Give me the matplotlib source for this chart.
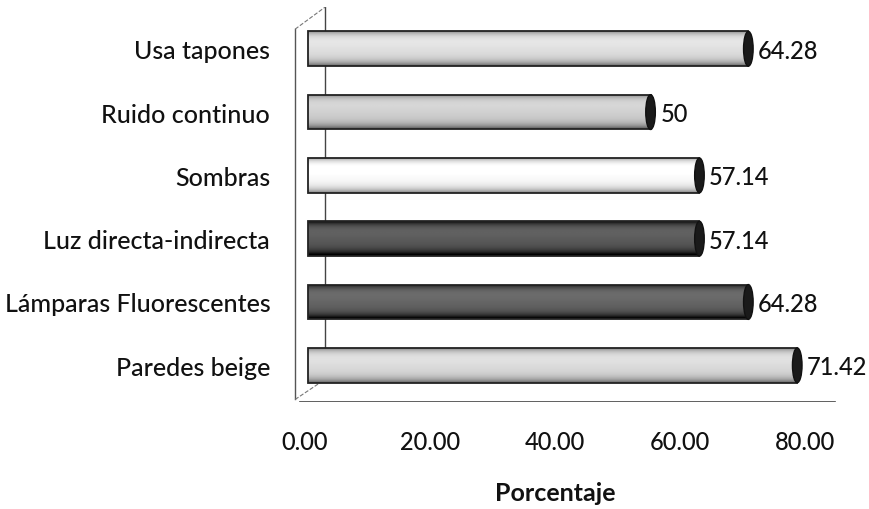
import numpy as np
import matplotlib.pyplot as plt
from matplotlib.patches import Ellipse

plt.rcParams['font.family'] = ['Lato', 'DejaVu Sans']

categorias = ['Paredes beige', 'Lámparas Fluorescentes', 'Luz directa-indirecta',
              'Sombras', 'Ruido continuo', 'Usa tapones']
porcentajes = [71.42, 64.28, 57.14, 57.14, 50, 64.28]
ticks_x = [0, 20, 40, 60, 80]

# tono de gris de cada cilindro (0 negro, 1 blanco)
tonos = [0.86, 0.40, 0.36, 0.99, 0.82, 0.88]

fig = plt.figure(figsize=(8.7, 5.1), dpi=100)
W, H = 870, 510

# ejes principales (barras)
ax = fig.add_axes([291 / W, (H - 403) / H, (856 - 291) / W, 395 / H])
ax.set_xlim(-2.5, 80)
ax.set_ylim(-0.58, 5.66)
alto = 0.55
y = np.arange(len(categorias))

barras = ax.barh(y, porcentajes, height=alto, color='none', edgecolor='#222222',
                 linewidth=1.3, zorder=3)

perfil = np.linspace(-1, 1, 64)
for b, v, t, yy in zip(barras, porcentajes, tonos, y):
    # sombreado cilindrico: bordes oscuros, centro claro
    sombra = t - 0.4 * perfil ** 4 - 0.08 * perfil
    sombra = np.clip(sombra, 0, 1)
    img = np.tile(sombra[:, None], (1, 8))
    im = ax.imshow(img, cmap='gray', vmin=0, vmax=1, aspect='auto',
                   extent=(0, v, yy - alto / 2, yy + alto / 2),
                   interpolation='bilinear', zorder=2)
    im.set_clip_path(b)
    tapa = Ellipse((v, yy), 1.4, alto, facecolor='#1a1a1a', edgecolor='#111111',
                   linewidth=1, zorder=4)
    ax.add_patch(tapa)
    ax.annotate(f'{v:g}', (v, yy), xytext=(7, -1), textcoords='offset points',
                va='center', ha='left', fontsize=17, fontweight='medium',
                color='#111111')

# paredes del grafico 3D
ax.plot([2.5, 2.5], [5.66, -0.22], color='#444444', lw=1, zorder=1)
ax.plot([-1.9, -1.9], [5.31, -0.54], color='#555555', lw=1, zorder=1)
ax.plot([-1.9, 2.5], [5.31, 5.66], color='#777777', lw=0.8, ls='--', zorder=1)
ax.plot([-1.9, 2.5], [-0.54, -0.22], color='#777777', lw=0.8, ls='--', zorder=1)
ax.plot([-1.2, 77], [-0.575, -0.575], color='#444444', lw=1.2, zorder=1)

ax.set_yticks(y)
ax.set_yticklabels(categorias, fontsize=18, fontweight='medium', color='#111111')
ax.tick_params(axis='y', length=0, pad=15)
ax.set_xticks([])
for s in ax.spines.values():
    s.set_visible(False)
ax.patch.set_visible(False)

# eje de etiquetas de porcentaje
ax_t = fig.add_axes([305 / W, (H - 427) / H, 500 / W, 0.001])
ax_t.set_xlim(0, 80)
ax_t.set_xticks(ticks_x)
ax_t.set_xticklabels([f'{t:.2f}' for t in ticks_x], fontsize=17,
                     fontweight='medium', color='#111111')
ax_t.tick_params(axis='x', length=0, pad=3)
ax_t.set_yticks([])
for s in ax_t.spines.values():
    s.set_visible(False)
ax_t.set_xlabel('Porcentaje', fontsize=18, fontweight='bold', labelpad=20,
                color='#111111')

fig.savefig('out.png', dpi=100)
